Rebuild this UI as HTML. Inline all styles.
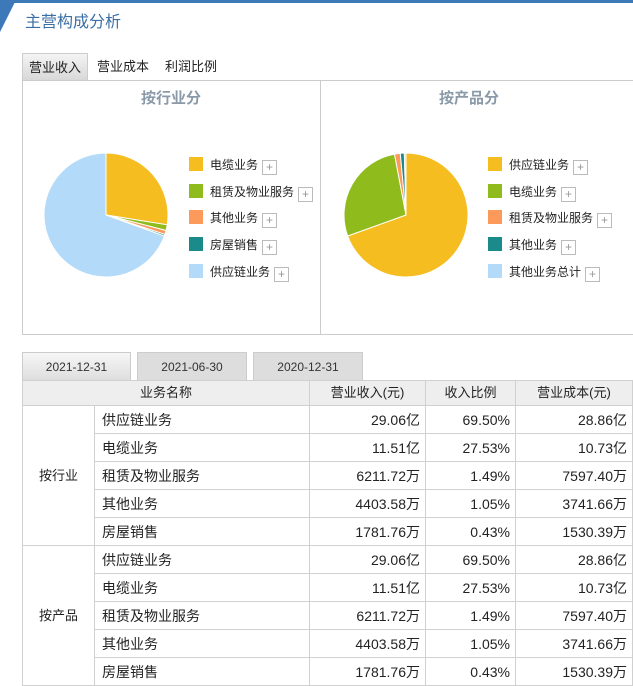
<!DOCTYPE html>
<html><head><meta charset="utf-8"><style>
body{margin:0;width:633px;height:684px;overflow:hidden;background:#fff;font-family:"Liberation Sans","Noto Sans CJK SC",sans-serif;position:relative}
.abs{position:absolute}
.tab{position:absolute;top:53px;height:27px;line-height:28px;font-size:13px;color:#222;text-align:center}
.dt{position:absolute;top:352px;height:28px;line-height:28px;font-size:12px;color:#333;text-align:center;background:#ddd;border:1px solid #ccc;border-bottom:none;box-sizing:border-box}
table{position:absolute;left:22px;top:380px;border-collapse:collapse;font-size:14px;color:#222}
td,th{border:1px solid #d0d0d0;height:27px;padding:0 5px;font-weight:normal;vertical-align:middle;line-height:16px}
th{background:#eee;height:24px;font-size:13px}
td.n{text-align:right}
.leg{position:absolute;font-size:12px;color:#222;height:16px;line-height:16px;white-space:nowrap}
.leg i{display:inline-block;width:14px;height:14px;vertical-align:-2px;margin-right:7px}
.leg b{display:inline-block;width:13px;height:13px;border:1px solid #bbb;color:#999;font-weight:normal;line-height:12px;text-align:center;margin-left:4px;font-size:12px;vertical-align:-2px}
</style></head><body>
<div class="abs" style="left:0;top:0;width:633px;height:3px;background:#3d78b8"></div>
<svg class="abs" style="left:0;top:0" width="20" height="34"><polygon points="0,0 16,0 0,32" fill="#3d78b8"/></svg>
<div class="abs" style="left:25px;top:8px;font-size:16px;color:#3b6fa5">主营构成分析</div>
<div class="tab" style="left:22px;width:66px;background:linear-gradient(#f4f4f4,#d8d8d8);border:1px solid #ccc;border-bottom:none;box-sizing:border-box">营业收入</div>
<div class="tab" style="left:90px;width:66px">营业成本</div>
<div class="tab" style="left:158px;width:66px">利润比例</div>
<div class="abs" style="left:22px;top:80px;width:620px;height:255px;border:1px solid #ccc;box-sizing:border-box"></div>
<div class="abs" style="left:320px;top:80px;width:1px;height:255px;background:#ccc"></div>
<div class="abs" style="left:22px;width:298px;top:87px;text-align:center;font-size:15px;font-weight:bold;color:#8a9aa8">按行业分</div>
<div class="abs" style="left:320px;width:298px;top:87px;text-align:center;font-size:15px;font-weight:bold;color:#8a9aa8">按产品分</div>
<svg id="pies" class="abs" style="left:0;top:0" width="633" height="340"></svg>
<div id="legs"></div>
<div class="dt" style="left:22px;width:109px;background:linear-gradient(#f6f6f6,#dedede)">2021-12-31</div>
<div class="dt" style="left:137px;width:110px">2021-06-30</div>
<div class="dt" style="left:253px;width:110px">2020-12-31</div>
<table>
<tr><th colspan="2" style="width:278px">业务名称</th><th style="width:105px">营业收入(元)</th><th style="width:79px">收入比例</th><th style="width:106px">营业成本(元)</th></tr>
<tbody id="tb"></tbody></table>
<script>
const cats1=["电缆业务","租赁及物业服务","其他业务","房屋销售","供应链业务"];
const vals1=[27.53,1.49,1.05,0.43,69.50];
const cats2=["供应链业务","电缆业务","租赁及物业服务","其他业务","其他业务总计"];
const vals2=[69.50,27.53,1.49,1.05,0.43];
const colors=["#f5bd1f","#8fbc1c","#fb9a5a","#1a8a8a","#b3daf8"];
const rowNames=["供应链业务","电缆业务","租赁及物业服务","其他业务","房屋销售"];
const rev=["29.06亿","11.51亿","6211.72万","4403.58万","1781.76万"];
const ratio=["69.50%","27.53%","1.49%","1.05%","0.43%"];
const cost=["28.86亿","10.73亿","7597.40万","3741.66万","1530.39万"];
const svg=document.getElementById('pies');
function pie(cx,cy,r,vals,name){
  const tot=vals.reduce((a,b)=>a+b,0);let a=0;
  vals.forEach((v,i)=>{
    const a0=a/tot*2*Math.PI,a1=(a+v)/tot*2*Math.PI;a+=v;
    const x0=cx+r*Math.sin(a0),y0=cy-r*Math.cos(a0),x1=cx+r*Math.sin(a1),y1=cy-r*Math.cos(a1);
    const p=document.createElementNS('http://www.w3.org/2000/svg','path');
    p.setAttribute('d',`M${cx},${cy}L${x0},${y0}A${r},${r} 0 ${a1-a0>Math.PI?1:0} 1 ${x1},${y1}Z`);
    p.setAttribute('fill',colors[i]);p.setAttribute('stroke','#fff');p.setAttribute('stroke-width','1');
    
    
    svg.appendChild(p);
  });
}
pie(106,215,62,vals1,'pie1');pie(406,215,62,vals2,'pie2');
const legs=document.getElementById('legs');
function legend(x,cats,name){
  cats.forEach((c,i)=>{
    const d=document.createElement('div');d.className='leg';
    d.style.left=x+'px';d.style.top=(157+i*26.7)+'px';
    d.innerHTML=`<i style="background:${colors[i]}"></i>${c}<b>+</b>`;
    
    
    legs.appendChild(d);
  });
}
legend(189,cats1,'pie1');legend(488,cats2,'pie2');
const tb=document.getElementById('tb');let h='';
["按行业","按产品"].forEach(g=>{
  rowNames.forEach((n,i)=>{
    h+='<tr>'+(i==0?`<td rowspan="5" style="width:61px;text-align:center;font-size:13px">${g}</td>`:'')+
    `<td style="padding-left:7px">${n}</td><td class="n">${rev[i]}</td><td class="n">${ratio[i]}</td><td class="n">${cost[i]}</td></tr>`;
  });
});
tb.innerHTML=h;
</script>
</body></html>
